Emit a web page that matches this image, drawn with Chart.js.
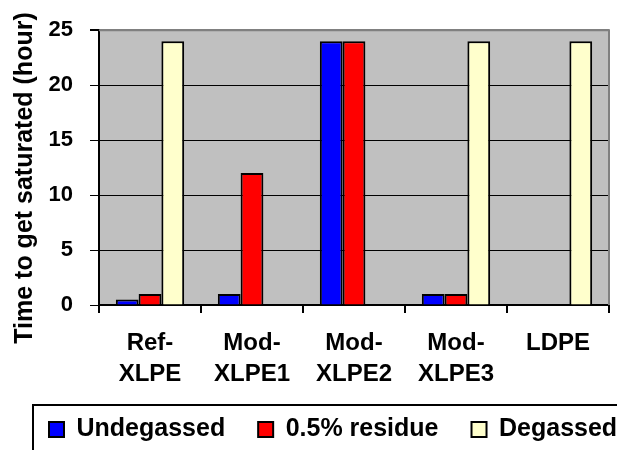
<!DOCTYPE html>
<html>
<head>
<meta charset="utf-8">
<script src="https://cdn.jsdelivr.net/npm/chart.js@4/dist/chart.umd.min.js"></script>
<style>
  html, body { margin:0; padding:0; background:#fff; }
  #wrap { width:617px; height:450px; }
</style>
</head>
<body>
<div id="wrap"><canvas id="chart"></canvas></div>
<script>
// data
const categories  = [["Ref-","XLPE"], ["Mod-","XLPE1"], ["Mod-","XLPE2"], ["Mod-","XLPE3"], "LDPE"];
const undegassed  = [0.5, 1, 24, 1, 0];
const residue     = [1, 12, 24, 1, 0];
const degassed    = [24, 0, 0, 24, 24];
const yTicks      = [0, 5, 10, 15, 20, 25];
const yTitle      = "Time to get saturated (hour)   ";

const FONT = "'Liberation Sans', Arial, sans-serif";
Chart.defaults.font.family = FONT;
Chart.defaults.color = "#000";

// grey plot area, grey top/right frame, boxed legend
const frame = {
  id: "frame",
  beforeDraw(chart){
    const {ctx, chartArea:a} = chart;
    ctx.save();
    ctx.fillStyle = "#c0c0c0";
    ctx.fillRect(a.left, a.top, a.right - a.left, a.bottom - a.top);
    ctx.restore();
  },
  afterDraw(chart){
    const {ctx, chartArea:a} = chart;
    ctx.save();
    ctx.strokeStyle = "#808080"; ctx.lineWidth = 2;
    ctx.beginPath();
    ctx.moveTo(a.left, a.top); ctx.lineTo(a.right, a.top); ctx.lineTo(a.right, a.bottom);
    ctx.stroke();
    // legend frame (runs off the right/bottom edge as in the original)
    ctx.strokeStyle = "#000"; ctx.lineWidth = 2;
    ctx.strokeRect(33, 405, 700, 100);
    ctx.restore();
  }
};

const mk = (label, data, color) => ({
  label, data, backgroundColor: color, borderColor: "#000", borderWidth: 2,
  borderSkipped: "start", categoryPercentage: 0.67, barPercentage: 1
});

new Chart(document.getElementById("chart"), {
  type: "bar",
  data: {
    labels: categories,
    datasets: [
      mk("Undegassed", undegassed, "#0000ff"),
      mk("0.5% residue", residue, "#ff0000"),
      mk("Degassed", degassed, "#ffffcc")
    ]
  },
  options: {
    responsive: true, maintainAspectRatio: false, animation: false,
    layout: { padding: { top: 28, left: 16, right: -40, bottom: -2 } },
    plugins: {
      tooltip: { enabled: false },
      legend: {
        position: "bottom", align: "start",
        labels: { boxWidth: 15, boxHeight: 15, padding: 33, color: "#000",
                  font: { size: 25, weight: "bold" } }
      }
    },
    scales: {
      x: {
        grid: { offset: true, drawOnChartArea: false, color: "#000", tickLength: 8, lineWidth: 2 },
        border: { color: "#000", width: 2 },
        ticks: { color: "#000", padding: 15, maxRotation: 0, autoSkip: false,
                 font: { size: 24, weight: "bold", lineHeight: 1.3 } },
        afterFit: s => { s.height = 79; }
      },
      y: {
        min: 0, max: 25,
        afterBuildTicks: s => { s.ticks = yTicks.map(v => ({ value: v })); },
        ticks: { color: "#000", padding: 17, font: { size: 22, weight: "bold" } },
        grid: {
          color: c => (c.tick && c.tick.value === 25) ? "#808080" : "#000",
          lineWidth: c => (c.tick && c.tick.value === 25) ? 2 : 1,
          tickColor: "#000", tickLength: 9
        },
        border: { color: "#000", width: 2 },
        title: { display: true, text: yTitle, color: "#000", padding: { top: -6, bottom: 0 },
                 font: { size: 25, weight: "bold" } },
        afterFit: s => { s.width = 83; }
      },
      // empty right-hand spacer so the plot ends where the original does
      // while the legend is allowed to run off the edge
      y2: {
        position: "right", display: true,
        grid: { display: false }, border: { display: false }, ticks: { display: false },
        afterFit: s => { s.width = 48; }
      }
    }
  },
  plugins: [frame]
});
</script>
</body>
</html>
